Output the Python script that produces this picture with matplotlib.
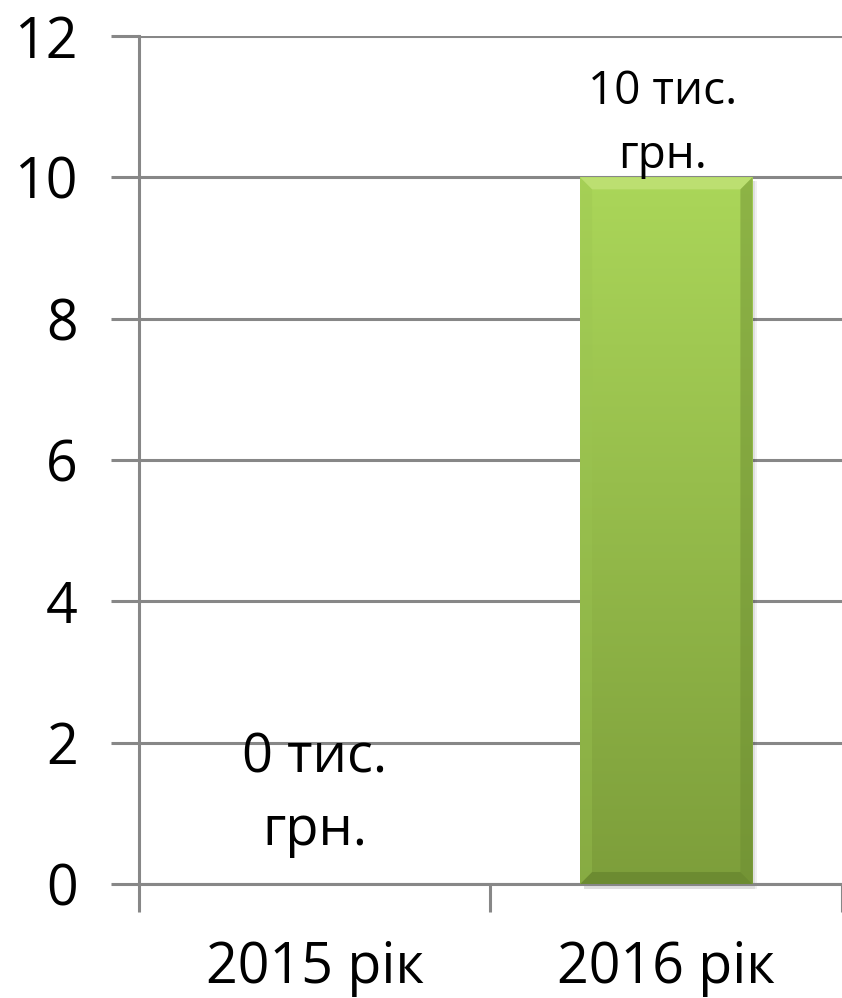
import matplotlib
matplotlib.use("Agg")
import matplotlib.pyplot as plt
import numpy as np
from matplotlib.patches import Polygon

categories = ["2015 рік", "2016 рік"]
values = [0, 10]
labels = ["0 тис.\nгрн.", "10 тис.\nгрн."]
yticks = [0, 2, 4, 6, 8, 10, 12]

plt.rcParams['font.family'] = ['Open Sans', 'DejaVu Sans']
grey = '#878787'

fig = plt.figure(figsize=(8.42, 9.98), dpi=100)
ax = fig.add_axes([0.165, 0.1142, 0.835, 0.8497])

x = np.arange(len(categories))
bw = 0.49
bars = ax.bar(x, values, width=bw, color='#93bb48', zorder=2)

# gradient + bevel on each bar
for b in bars:
    h = b.get_height()
    if h <= 0:
        continue
    x0, x1 = b.get_x(), b.get_x() + b.get_width()
    grad = np.linspace(0, 1, 256).reshape(-1, 1)
    top = np.array([0.67, 0.84, 0.35])
    bot = np.array([0.49, 0.62, 0.23])
    img = bot + (top - bot) * grad
    img = img.reshape(256, 1, 3)
    im = ax.imshow(img, extent=[x0, x1, 0, h], origin='lower', aspect='auto', zorder=3)
    im.set_clip_path(b)
    dx = 0.034
    dy = 0.17
    ax.add_patch(Polygon([[x0, h], [x1, h], [x1 - dx, h - dy], [x0 + dx, h - dy]],
                         closed=True, color='#c4e47c', alpha=0.7, lw=0, zorder=4))
    ax.add_patch(Polygon([[x0, 0], [x1, 0], [x1 - dx, dy], [x0 + dx, dy]],
                         closed=True, color='#5f7d2a', alpha=0.55, lw=0, zorder=4))
    ax.add_patch(Polygon([[x1, 0], [x1, h], [x1 - dx, h - dy], [x1 - dx, dy]],
                         closed=True, color='#6a8a30', alpha=0.45, lw=0, zorder=4))
    ax.add_patch(Polygon([[x0, 0], [x0, h], [x0 + dx, h - dy], [x0 + dx, dy]],
                         closed=True, color='#9cc552', alpha=0.35, lw=0, zorder=4))
    # soft shadow
    for k, a in [(0.012, 0.06), (0.007, 0.07)]:
        ax.add_patch(Polygon([[x0 + 0.01, -0.07], [x1 + k, -0.07], [x1 + k, h - 0.05],
                              [x1, h - 0.05], [x1, 0], [x0 + 0.01, 0]],
                             closed=True, color='#000000', alpha=a, lw=0, zorder=1, clip_on=False))

for xi, v, t in zip(x, values, labels):
    if v == 0:
        ax.text(xi, 1.27, t, ha='center', va='center', fontsize=39, linespacing=1.42, zorder=5)
    else:
        ax.text(xi - 0.01, v - 0.02, t, ha='center', va='bottom', fontsize=33, linespacing=1.5, zorder=5)

ax.set_xlim(-0.5, 1.5)
ax.set_ylim(0, 12)
ax.set_yticks(yticks)
ax.set_yticklabels([str(t) for t in yticks], fontsize=40)
ax.yaxis.grid(True, color=grey, lw=2.2, zorder=0)
ax.set_axisbelow(True)

ax.set_xticks(x)
ax.set_xticklabels(categories, fontsize=40)
ax.tick_params(axis='x', which='major', length=0, pad=40)
ax.set_xticks([-0.5, 0.5, 1.5], minor=True)
ax.tick_params(axis='x', which='minor', length=20, width=2.2, color=grey)
ax.tick_params(axis='y', length=20, width=2.2, color=grey, pad=24)

for s in ['top', 'right']:
    ax.spines[s].set_visible(False)
for s in ['left', 'bottom']:
    ax.spines[s].set_color(grey)
    ax.spines[s].set_linewidth(2.2)

fig.savefig("out.png", dpi=100)
